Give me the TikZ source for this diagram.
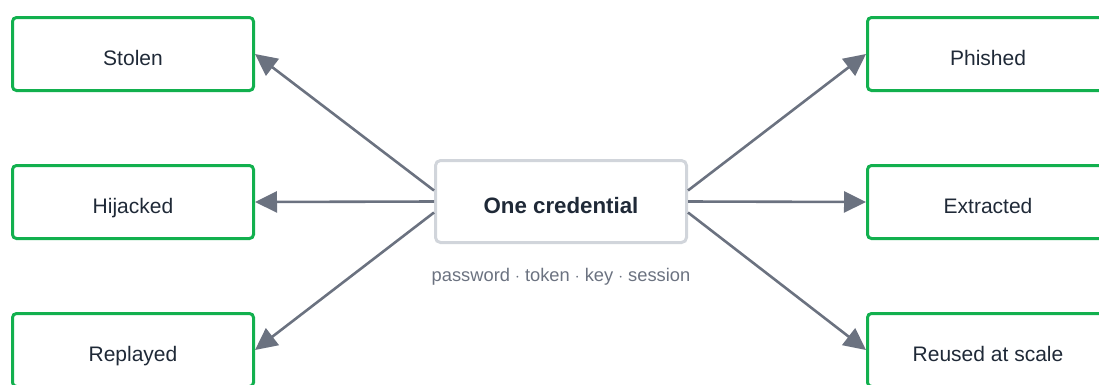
\documentclass[tikz,border=0pt]{standalone}
\usepackage{fontspec}
\setmainfont{Liberation Sans}
\usetikzlibrary{arrows.meta,positioning}
\definecolor{okgreen}{HTML}{12B04E}
\definecolor{ink}{HTML}{1F2937}
\definecolor{slate}{HTML}{6B7280}
\definecolor{edgegrey}{HTML}{D1D5DB}

\begin{document}
\begin{tikzpicture}
  [x=1pt,y=-1pt,
   every node/.style={text=ink},
   outcome/.style={draw=okgreen,line width=3pt,rounded corners=4pt,minimum width=241pt,minimum height=73pt,
     text height=22pt,text depth=0pt,font=\fontsize{21}{25}\selectfont},
   core/.style={draw=edgegrey,line width=3pt,rounded corners=5pt,minimum width=251pt,minimum height=82pt,
     text height=24pt,text depth=0pt,font=\bfseries\fontsize{22.3}{26}\selectfont},
   link/.style={draw=slate,line width=2.6pt,-{Triangle[length=22pt,width=21pt]}}]
  \useasboundingbox (0,0) rectangle (1099,384);

  \node[core] (cred) at (561,201.5) {One credential};
  \node[text=slate,font=\fontsize{18.3}{22}\selectfont] (forms) at (561,277) {password $\cdot$ token $\cdot$ key $\cdot$ session};

  \node[outcome] (stolen)   at (133,54)  {Stolen};
  \node[outcome] (hijacked) at (133,202) {Hijacked};
  \node[outcome] (replayed) at (133,350) {Replayed};
  \node[outcome] (phished)  at (988,54)  {Phished};
  \node[outcome] (extract)  at (988,202) {Extracted};
  \node[outcome] (reused)   at (988,350) {Reused at scale};

  \draw[link] ([yshift=11pt]cred.west) -- (stolen.east);
  \draw[link] (cred.west) -- (hijacked.east);
  \draw[link] ([yshift=-11pt]cred.west) -- (replayed.east);
  \draw[link] ([yshift=11pt]cred.east) -- (phished.west);
  \draw[link] (cred.east) -- (extract.west);
  \draw[link] ([yshift=-11pt]cred.east) -- (reused.west);
\end{tikzpicture}
\end{document}
